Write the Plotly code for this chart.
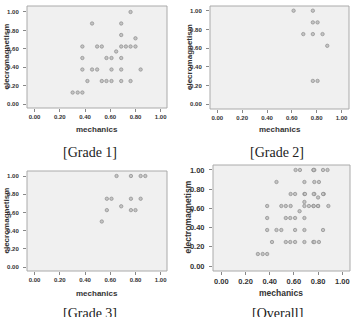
import plotly.graph_objects as go

# ---- data ----
g1_mech = [0.761, 0.456, 0.687, 0.687, 0.80, 0.379, 0.496, 0.533, 0.687, 0.724, 0.761, 0.80,
           0.647, 0.379, 0.570, 0.610, 0.687, 0.379, 0.456, 0.496, 0.610, 0.687, 0.841,
           0.419, 0.533, 0.570, 0.610, 0.687, 0.761, 0.302, 0.342, 0.379]
g1_elec = [1.0, 0.875, 0.875, 0.75, 0.714, 0.625, 0.625, 0.625, 0.625, 0.625, 0.625, 0.625,
           0.571, 0.5, 0.5, 0.5, 0.5, 0.375, 0.375, 0.375, 0.375, 0.375, 0.375,
           0.25, 0.25, 0.25, 0.25, 0.25, 0.25, 0.125, 0.125, 0.125]
g2_mech = [0.614, 0.769, 0.769, 0.807, 0.692, 0.769, 0.847, 0.885, 0.769, 0.807]
g2_elec = [1.0, 1.0, 0.875, 0.875, 0.75, 0.75, 0.75, 0.625, 0.25, 0.25]
g3_mech = [0.65, 0.764, 0.841, 0.878, 0.573, 0.61, 0.764, 0.841, 0.687, 0.573, 0.764, 0.80, 0.533]
g3_elec = [1.0, 1.0, 1.0, 1.0, 0.75, 0.75, 0.75, 0.75, 0.667, 0.625, 0.625, 0.625, 0.5]
all_mech = g1_mech + g2_mech + g3_mech
all_elec = g1_elec + g2_elec + g3_elec

tick_vals = [0, 0.2, 0.4, 0.6, 0.8, 1.0]
tick_text = ["0.00", "0.20", "0.40", "0.60", "0.80", "1.00"]
captions = ["[Grade 1]", "[Grade 2]", "[Grade 3]", "[Overall]"]
ytitles = ["elecromagnetism", "elecromagnetism", "elecromagnetism", "electromagnetism"]

W, H = 355, 317
# panel boxes in pixels: x0, x1, y0(top), y1(bottom)
boxes = [(27, 167, 6, 108), (210, 349, 6, 109), (27, 167, 171, 271), (213, 350, 165, 271)]
xranges = [[-0.06, 1.05], [-0.059, 1.06], [-0.06, 1.05], [-0.069, 1.064]]
yranges = [[-0.043, 1.065], [-0.05, 1.05], [-0.044, 1.055], [-0.052, 1.052]]
tick_sizes = [6, 6, 6, 7.5]
xtitle_pos = [(97, 129), (280, 129), (97, 293), (281, 293)]
ytitle_pos = [(5.5, 57), (189, 57), (5.5, 221), (187.5, 217)]
cap_pos = [(90, 152), (277, 152), (90, 313), (277, 313)]

data = [(g1_mech, g1_elec), (g2_mech, g2_elec), (g3_mech, g3_elec), (all_mech, all_elec)]

fig = go.Figure()
layout = dict(width=W, height=H, margin=dict(l=0, r=0, t=0, b=0),
              paper_bgcolor="white", showlegend=False)
annotations = []
shapes = []
for i, (mx, ey) in enumerate(data):
    n = "" if i == 0 else str(i + 1)
    fig.add_trace(go.Scatter(x=mx, y=ey, mode="markers", xaxis="x" + n, yaxis="y" + n,
                             marker=dict(size=3.4, color="#c4c4c4",
                                         line=dict(color="#8c8c8c", width=0.7)),
                             hoverinfo="skip"))
    x0, x1, y0, y1 = boxes[i]
    common = dict(showgrid=False, zeroline=False, ticks="outside", ticklen=3,
                  tickcolor="#888888", tickwidth=1, showline=False,
                  tickvals=tick_vals, ticktext=["<b>" + t + "</b>" for t in tick_text],
                  tickfont=dict(family="Liberation Sans, Arial", size=tick_sizes[i], color="#333333"))
    layout["xaxis" + n] = dict(domain=[x0 / W, x1 / W], range=xranges[i],
                               anchor="y" + n, **common)
    layout["yaxis" + n] = dict(domain=[1 - y1 / H, 1 - y0 / H], range=yranges[i],
                               anchor="x" + n, ticklabelstandoff=3, **common)
    shapes.append(dict(type="rect", xref="paper", yref="paper",
                       x0=x0 / W, x1=x1 / W, y0=1 - y1 / H, y1=1 - y0 / H,
                       fillcolor="#f0f0f0", line=dict(color="#aaaaaa", width=1), layer="below"))
    fs = 8 if i < 3 else 8.5
    annotations.append(dict(text="<b>mechanics</b>", x=xtitle_pos[i][0] / W, y=1 - xtitle_pos[i][1] / H,
                            xref="paper", yref="paper", showarrow=False,
                            xanchor="center", yanchor="middle",
                            font=dict(family="Liberation Sans, Arial", size=fs, color="#333333")))
    annotations.append(dict(text="<b>" + ytitles[i] + "</b>", x=ytitle_pos[i][0] / W, y=1 - ytitle_pos[i][1] / H,
                            xref="paper", yref="paper", showarrow=False, textangle=-90,
                            xanchor="center", yanchor="middle",
                            font=dict(family="Liberation Sans, Arial", size=fs, color="#333333")))
    annotations.append(dict(text=captions[i], x=cap_pos[i][0] / W, y=1 - cap_pos[i][1] / H,
                            xref="paper", yref="paper", showarrow=False,
                            xanchor="center", yanchor="middle",
                            font=dict(family="Liberation Serif, DejaVu Serif", size=14, color="#222222")))

layout["annotations"] = annotations
layout["shapes"] = shapes
layout["plot_bgcolor"] = "rgba(0,0,0,0)"
fig.update_layout(**layout)
fig.write_html("out.html")
